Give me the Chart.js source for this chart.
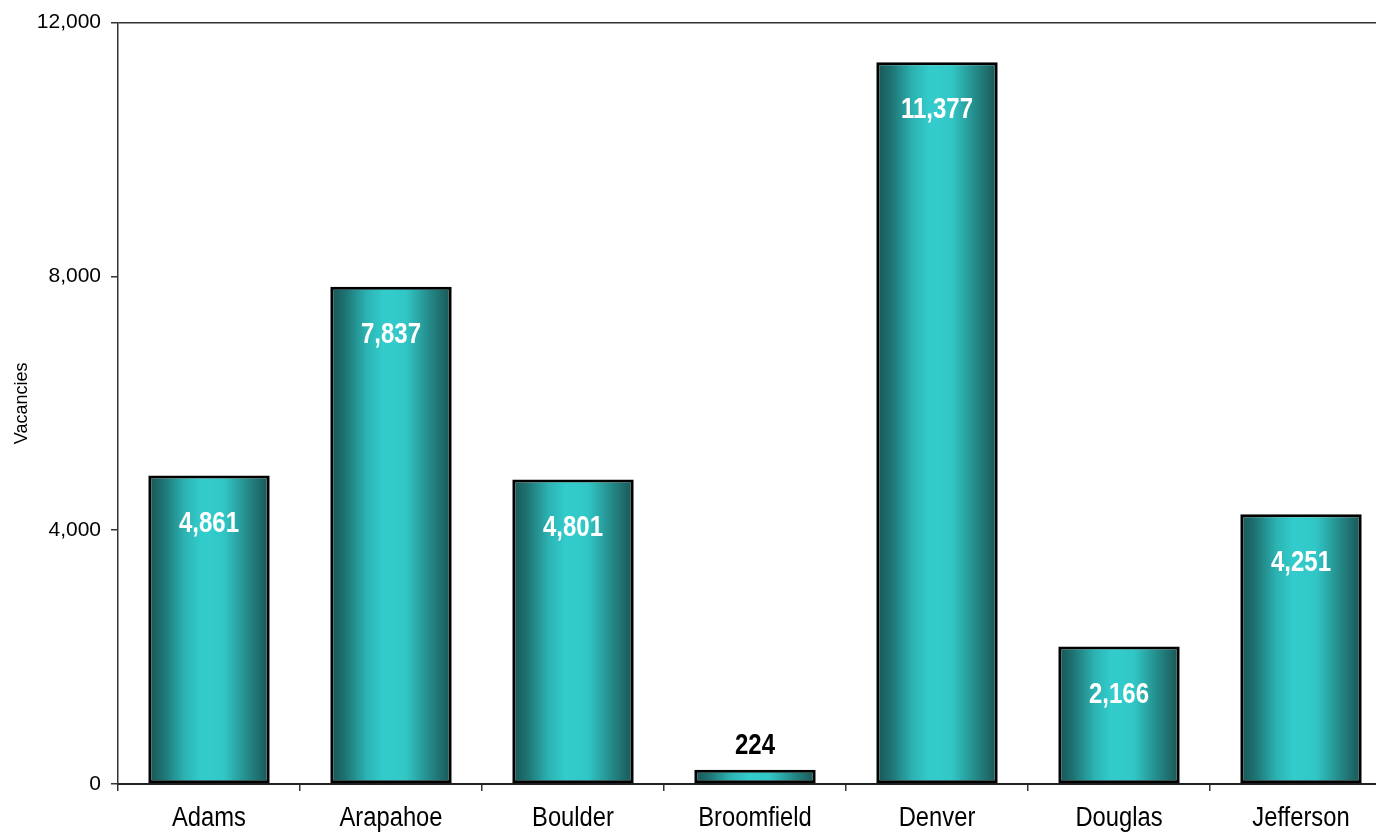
<!DOCTYPE html>
<html>
<head>
<meta charset="UTF-8">
<title>Vacancies by County</title>
<script src="https://cdn.jsdelivr.net/npm/chart.js"></script>
<style>
  html, body { margin: 0; padding: 0; background: #fff; overflow: hidden; }
  #wrap { width: 1400px; height: 836px; position: relative; }
</style>
</head>
<body>
<div id="wrap"><canvas id="vacChart"></canvas></div>
<script>
// --- data ---
const counties = ['Adams', 'Arapahoe', 'Boulder', 'Broomfield', 'Denver', 'Douglas', 'Jefferson'];
const vacancies = [4861, 7837, 4801, 224, 11377, 2166, 4251];
const yTicks = [0, 4000, 8000, 12000];

const FONT = '"Liberation Sans", Arial, sans-serif';
const BAR_PCT = 0.667;

// horizontal teal gradient per bar
function barFill(ctx) {
  const chart = ctx.chart;
  const x = chart.scales.x;
  if (!chart.chartArea || !x) return '#33cccc';
  const cx = x.getPixelForValue(ctx.dataIndex);
  const w = (x.width / counties.length) * BAR_PCT;
  const g = chart.ctx.createLinearGradient(cx - w / 2, 0, cx + w / 2, 0);
  g.addColorStop(0, '#195454');
  g.addColorStop(0.12, '#1e7272');
  g.addColorStop(0.3, '#2cb3b3');
  g.addColorStop(0.44, '#33cccc');
  g.addColorStop(0.62, '#32c7c7');
  g.addColorStop(0.85, '#22807f');
  g.addColorStop(1, '#195454');
  return g;
}

// no narrow face installed, so squeeze text horizontally
function narrowText(c, txt, x, y, k) {
  c.save();
  c.translate(x, y);
  c.scale(k, 1);
  c.fillText(txt, 0, 0);
  c.restore();
}

// value labels + category labels drawn condensed
const valueLabels = {
  id: 'valueLabels',
  afterDatasetsDraw(chart) {
    const c = chart.ctx;
    const meta = chart.getDatasetMeta(0);
    c.save();
    c.font = 'bold 30px ' + FONT;
    c.textAlign = 'center';
    c.textBaseline = 'middle';
    meta.data.forEach((bar, i) => {
      const txt = vacancies[i].toLocaleString('en-US');
      const h = bar.base - bar.y;
      if (h > 80) {
        c.fillStyle = '#ffffff';
        narrowText(c, txt, bar.x, bar.y + 48, 0.8);
      } else {
        c.fillStyle = '#000000';
        narrowText(c, txt, bar.x, bar.y - 24, 0.8);
      }
    });
    const xs = chart.scales.x;
    c.font = '27px ' + FONT;
    c.fillStyle = '#000000';
    counties.forEach((name, i) => {
      narrowText(c, name, xs.getPixelForValue(i), 819, 0.88);
    });
    c.restore();
  }
};

new Chart(document.getElementById('vacChart'), {
  type: 'bar',
  data: {
    labels: counties,
    datasets: [{
      label: 'Vacancies',
      data: vacancies,
      backgroundColor: barFill,
      borderColor: '#000000',
      borderWidth: 3,
      borderSkipped: false,
      categoryPercentage: 1,
      barPercentage: BAR_PCT
    }]
  },
  options: {
    responsive: true,
    maintainAspectRatio: false,
    animation: false,
    layout: { padding: { left: 0, top: 18, right: 8, bottom: 0 } },
    plugins: { legend: { display: false }, tooltip: { enabled: false } },
    scales: {
      x: {
        afterFit: s => { s.height = 52; },
        grid: {
          offset: true,
          drawOnChartArea: false,
          drawTicks: true,
          tickLength: 7,
          tickColor: '#333',
          lineWidth: 1.5
        },
        border: { display: true, color: '#222', width: 2 },
        ticks: { display: false }
      },
      y: {
        min: 0,
        max: 12000,
        afterFit: s => { s.width = 118; },
        afterBuildTicks: s => { s.ticks = yTicks.map(v => ({ value: v })); },
        grid: {
          color: c => (c.tick && c.tick.value === 12000) ? '#333' : 'rgba(0,0,0,0)',
          tickColor: '#333',
          lineWidth: 1.5,
          drawTicks: true,
          tickLength: 7
        },
        border: { display: true, color: '#333', width: 1.5 },
        ticks: {
          color: '#000',
          font: { family: FONT, size: 21 },
          padding: 10,
          callback: v => v.toLocaleString('en-US')
        },
        title: {
          display: true,
          text: 'Vacancies',
          color: '#000',
          font: { family: FONT, size: 18 },
          padding: { top: 11, bottom: 0 }
        }
      }
    }
  },
  plugins: [valueLabels]
});
</script>
</body>
</html>
